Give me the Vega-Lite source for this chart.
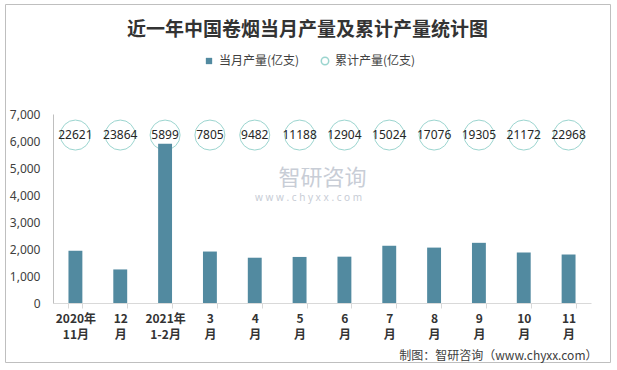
{
  "$schema": "https://vega.github.io/schema/vega-lite/v6.json",
  "width": 605,
  "height": 358,
  "autosize": "none",
  "padding": {"left": 5, "top": 4, "right": 7, "bottom": 8},
  "background": "white",
  "config": {"view": {"stroke": "#bfbfbf", "strokeWidth": 1}, "font": "Noto Sans CJK SC"},
  "title": {"text": "近一年中国卷烟当月产量及累计产量统计图", "fontSize": 19, "fontWeight": "bold", "color": "#333333", "offset": -36, "font": "Noto Sans CJK SC"},
  "data": {"values": [
    {"month": "2020年|11月", "monthly": 1935, "cum": 22621},
    {"month": "12|月", "monthly": 1243, "cum": 23864},
    {"month": "2021年|1-2月", "monthly": 5899, "cum": 5899},
    {"month": "3|月", "monthly": 1906, "cum": 7805},
    {"month": "4|月", "monthly": 1677, "cum": 9482},
    {"month": "5|月", "monthly": 1706, "cum": 11188},
    {"month": "6|月", "monthly": 1716, "cum": 12904},
    {"month": "7|月", "monthly": 2120, "cum": 15024},
    {"month": "8|月", "monthly": 2052, "cum": 17076},
    {"month": "9|月", "monthly": 2229, "cum": 19305},
    {"month": "10|月", "monthly": 1867, "cum": 21172},
    {"month": "11|月", "monthly": 1796, "cum": 22968}
  ]},
  "layer": [
    {
      "mark": {"type": "point", "filled": false, "size": 900, "strokeWidth": 1},
      "encoding": {
        "x": {
          "field": "month", "type": "nominal", "sort": null,
          "scale": {"range": [48, 586], "paddingInner": 0.69, "paddingOuter": 0.345},
          "axis": {
            "title": "制图：智研咨询（www.chyxx.com）",
            "titleAnchor": "end", "titleAlign": "right", "titleX": 592, "titleY": 52, "titleBaseline": "middle",
            "titleFontSize": 12, "titleFontWeight": "normal", "titleColor": "#404040", "titleFont": "Noto Sans CJK SC",
            "labelExpr": "datum.value ? split(datum.value, '|') : ''", "labelAngle": 0, "labelFontWeight": "bold", "labelFontSize": 12,
            "labelColor": "#333333", "labelLineHeight": 16, "labelPadding": 5, "labelFont": "Noto Sans CJK SC",
            "offset": -59, "domainColor": "#d9d9d9", "tickColor": "#d9d9d9", "tickBand": "extent", "tickSize": 5
          }
        },
        "y": {"datum": 6220, "type": "quantitative", "scale": {"domain": [0, 7000], "range": [299, 110], "nice": false},
          "axis": {"title": null, "values": [0, 1000, 2000, 3000, 4000, 5000, 6000, 7000], "labelExpr": "format(datum.value, ',')", "grid": false, "ticks": false,
            "offset": -48, "domainColor": "#bfbfbf", "labelFontSize": 12, "labelColor": "#404040", "labelPadding": 13, "labelFont": "Noto Sans"}},
        "stroke": {"datum": "累计产量(亿支)", "scale": {"range": ["#72c4bc"]},
          "legend": {"orient": "none", "legendX": 314, "legendY": 51, "title": null, "symbolType": "circle", "symbolSize": 55,
            "symbolStrokeWidth": 1.5, "symbolFillColor": "white", "labelFontSize": 12, "labelColor": "#404040", "labelFont": "Noto Sans CJK SC", "padding": 0}}
      }
    },
    {
      "mark": {"type": "bar"},
      "encoding": {
        "x": {"field": "month", "type": "nominal", "sort": null},
        "y": {"field": "monthly", "type": "quantitative"},
        "fill": {"datum": "当月产量(亿支)", "scale": {"range": ["#528aa0"]},
          "legend": {"orient": "none", "legendX": 198, "legendY": 51, "title": null, "symbolType": "square", "symbolSize": 40,
            "labelFontSize": 12, "labelColor": "#404040", "labelFont": "Noto Sans CJK SC", "padding": 0}}
      }
    },
    {
      "mark": {"type": "text", "fontSize": 12, "font": "Noto Sans", "color": "#262626"},
      "encoding": {
        "x": {"field": "month", "type": "nominal", "sort": null},
        "y": {"datum": 6220, "type": "quantitative"},
        "text": {"field": "cum"}
      }
    },
    {
      "data": {"values": [{"wm": "智研咨询", "site": "w w w . c h y x x . c o m"}]},
      "mark": {"type": "text", "fontSize": 22, "color": "#c8cdd6", "dx": 23, "font": "Noto Sans CJK SC"},
      "encoding": {
        "x": {"datum": "5|月"},
        "y": {"datum": 4620, "type": "quantitative"},
        "text": {"field": "wm"}
      }
    },
    {
      "data": {"values": [{"wm": "智研咨询", "site": "w w w . c h y x x . c o m"}]},
      "mark": {"type": "text", "fontSize": 10, "color": "#c8cdd6", "dx": 9, "font": "Noto Sans"},
      "encoding": {
        "x": {"datum": "5|月"},
        "y": {"datum": 3900, "type": "quantitative"},
        "text": {"field": "site"}
      }
    }
  ]
}
